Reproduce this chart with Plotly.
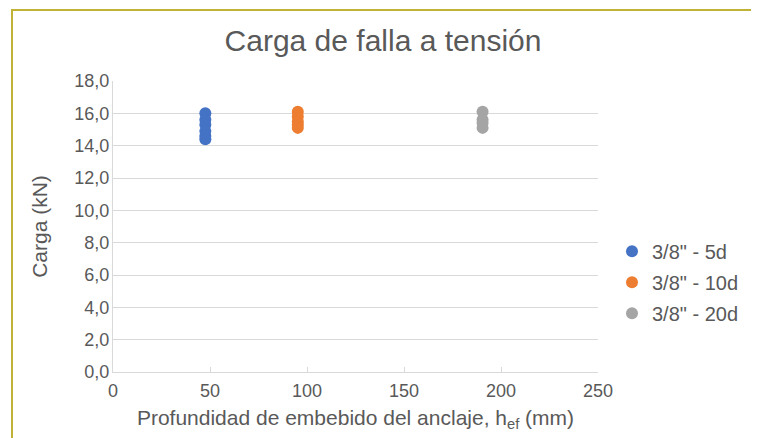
import plotly.graph_objects as go

series_names = ['3/8" - 5d', '3/8" - 10d', '3/8" - 20d']
x_positions = [47.6, 95.25, 190.5]
values_5d = [16.0, 15.6, 15.3, 14.9, 14.6, 14.4]
values_10d = [16.1, 15.8, 15.5, 15.3, 15.1]
values_20d = [16.1, 15.6, 15.4, 15.1]
colors = ["#4472C4", "#ED7D31", "#A5A5A5"]
x_ticks = [0, 50, 100, 150, 200, 250]
y_ticks = [0, 2, 4, 6, 8, 10, 12, 14, 16, 18]

FONT = "Liberation Sans, Arial, sans-serif"
TXT = "#595959"
fig = go.Figure()
for i, (name, xv, vals, col) in enumerate(zip(series_names, x_positions,
                                              [values_5d, values_10d, values_20d], colors)):
    fig.add_trace(go.Scatter(x=[xv] * len(vals), y=vals, mode="markers", name=name,
                             legendgroup="g%d" % i,
                             marker=dict(color=col, size=12)))

# page has an 8px body margin: figure coords = page coords - 8
OFF = 8
W, H = 759 - OFF, 438 - OFF
L, R, T, B = 113 - OFF, 598 - OFF, 81 - OFF, 371.7 - OFF
pw, ph = R - L, B - T

def px(x):
    return (x - OFF - L) / pw

def py(y):
    return (B - (y - OFF)) / ph

fig.add_shape(type="rect", xref="paper", yref="paper",
              x0=px(12), x1=px(757), y0=py(460), y1=py(10),
              line=dict(color="#BFB235", width=2), fillcolor="rgba(0,0,0,0)", layer="below")

fig.update_layout(
    width=W, height=H,
    margin=dict(l=L, r=W - R, t=T, b=H - B, pad=0, autoexpand=False),
    paper_bgcolor="white", plot_bgcolor="white",
    separators=",.",
    font=dict(family=FONT, color=TXT, size=18),
    title=dict(text="Carga de falla a tensión", x=(383 - OFF) / W, xanchor="center",
               y=1 - (40 - OFF) / H, yanchor="middle", font=dict(size=30, color=TXT)),
    xaxis=dict(range=[0, 250], tickvals=x_ticks, ticktext=[str(v) for v in x_ticks],
               showgrid=False, zeroline=False, showline=True, linecolor="#D9D9D9", linewidth=1,
               ticks="inside", ticklen=5, tickcolor="#D9D9D9", ticklabelstandoff=2,
               tickfont=dict(size=18, color=TXT),
               title=dict(text="Profundidad de embebido del anclaje, h<sub>ef</sub> (mm)",
                          font=dict(size=21, color=TXT), standoff=10)),
    yaxis=dict(range=[0, 18], tickvals=y_ticks, tickformat=".1f",
               showgrid=True, gridcolor="#D9D9D9", gridwidth=1, zeroline=False,
               showline=True, linecolor="#D9D9D9", linewidth=1,
               tickfont=dict(size=18, color=TXT), ticks="", ticklabelstandoff=-1,
               title=dict(text="Carga (kN)", font=dict(size=21, color=TXT), standoff=21)),
    legend=dict(x=px(612), y=py(282), xanchor="left", yanchor="middle",
                font=dict(size=20, color=TXT), bgcolor="rgba(0,0,0,0)",
                traceorder="grouped", tracegroupgap=2, itemwidth=30),
    showlegend=True,
)

fig.write_html("out.html")
